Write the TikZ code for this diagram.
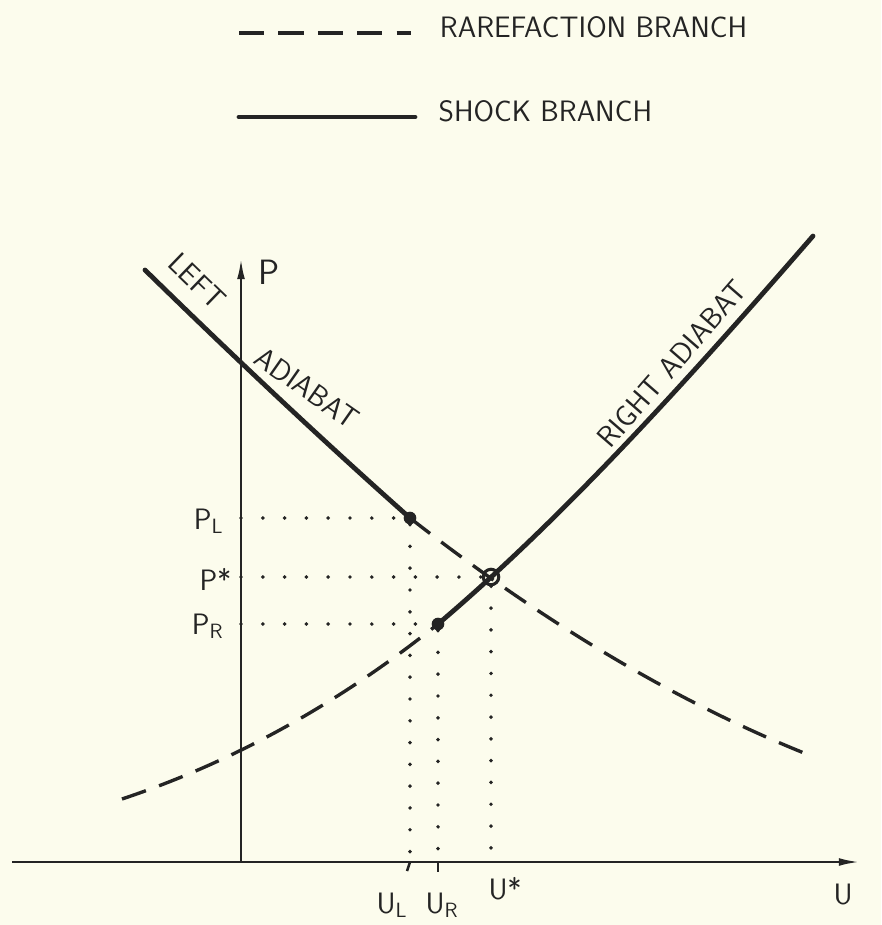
\documentclass[tikz,border=0pt]{standalone}
\usepackage{xcolor}
\usepackage{tikz}
\usetikzlibrary{arrows.meta,positioning}

\definecolor{paper}{RGB}{252,252,237}
\definecolor{ink}{RGB}{36,36,36}

\begin{document}
\begin{tikzpicture}[x=0.025cm, y=-0.025cm, >={Latex[length=15pt,width=5.5pt]},
    axis/.style={ink, line width=1.8pt},
    shock/.style={ink, line width=3.4pt, line cap=round},
    rare/.style={ink, line width=2.4pt, dash pattern=on 18pt off 10pt},
    guide/.style={ink, line width=2.8pt, line cap=round, dash pattern=on 0pt off 15.5pt},
    state/.style={circle, fill=ink, inner sep=0pt, minimum size=9pt},
    cross/.style={circle, draw=ink, line width=2.2pt, inner sep=0pt, minimum size=11pt},
    lbl/.style={ink, font=\fontsize{21}{25}\selectfont\sffamily, inner sep=1pt},
    tag/.style={ink, font=\fontsize{21}{25}\selectfont\sffamily, inner sep=0pt}]

    \fill[paper] (0,0) rectangle (881,925);

    % legend
    \coordinate (ra) at (239,33);
    \coordinate (rb) at (411,33);
    \coordinate (sa) at (239,117);
    \coordinate (sb) at (415,117);
    \draw[rare] (ra) -- (rb);
    \draw[shock] (sa) -- (sb);
    \node[lbl, right=0.68cm of rb, yshift=4pt] (rtext) {RAREFACTION BRANCH};
    \node[lbl, right=0.55cm of sb, yshift=4pt] (stext) {SHOCK BRANCH};

    % axes
    \coordinate (o) at (241,862);
    \coordinate (ptop) at (241,258);
    \coordinate (uleft) at (12,862);
    \coordinate (uright) at (860,862);
    \draw[axis, ->] (o) -- (ptop);
    \draw[axis, ->] (uleft) -- (uright);
    \node[lbl, anchor=west, font=\fontsize{25}{28}\selectfont\sffamily] (plab) at (257,272) {P};
    \node[lbl, anchor=north] (ulab) at (843,882) {U};

    % states
    \node[state] (pl) at (410,518) {};
    \node[state] (pr) at (438,624) {};
    \node[cross] (ps) at (491,577) {};
    \coordinate (lt) at (145,270);
    \coordinate (le) at (809,755);
    \coordinate (rt) at (813,236);
    \coordinate (re) at (122,799);

    % adiabats
    \draw[shock] (lt) .. controls (233,356) and (322,440) .. (pl.center);
    \draw[rare] (pl.center) .. controls (543,622) and (676,702) .. (le);
    \draw[rare] (re) .. controls (227,764) and (333,708) .. (pr.center);
    \draw[shock] (pr.center) .. controls (563,518) and (688,380) .. (rt);

    % projections
    \draw[guide] (pl -| o) -- (pl);
    \draw[guide] (ps -| o) -- (ps);
    \draw[guide] (pr -| o) -- (pr);
    \draw[guide] (pl) -- (pl |- o);
    \draw[guide] (ps) -- (ps |- o);
    \draw[guide] (pr) -- (pr |- o);
    \draw[axis] (pl |- o) -- ++(-3,9);
    \draw[axis] (pr |- o) -- ++(0,10);

    % labels
    \node[lbl, anchor=base east] (lpl) at (225,529) {P\textsubscript{L}};
    \node[lbl, anchor=base east] (lps) at (233,590) {P*};
    \node[lbl, anchor=base east] (lpr) at (225,634) {P\textsubscript{R}};
    \node[lbl, anchor=north] (lul) at (392,891) {U\textsubscript{L}};
    \node[lbl, anchor=north] (lur) at (442,891) {U\textsubscript{R}};
    \node[lbl, anchor=north] (lus) at (505,876) {U*};

    \node[tag, rotate=-44] (left) at (197,281) {LEFT};
    \node[tag, rotate=-35] (ladia) at (307,388) {ADIABAT};
    \node[tag, rotate=49] (radia) at (672,364) {RIGHT ADIABAT};
\end{tikzpicture}
\end{document}
